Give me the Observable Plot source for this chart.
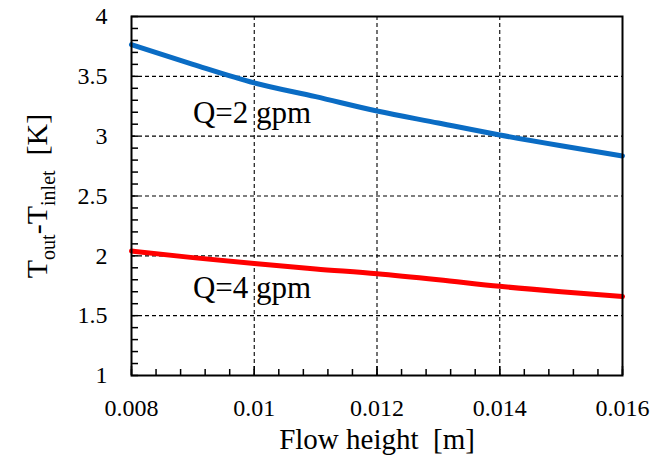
<!DOCTYPE html>
<html>
<head>
<meta charset="utf-8">
<script src="https://cdn.jsdelivr.net/npm/d3@7"></script>
<script src="https://cdn.jsdelivr.net/npm/@observablehq/plot@0.6"></script>
<style>
  body { margin: 0; background: #fff; }
  #chart svg text { white-space: pre; font-family: 'Liberation Serif', 'Times New Roman', serif !important; }
  #chart svg g, #chart svg text { font-variant: normal !important; font-variant-numeric: normal !important; }
</style>
</head>
<body>
<div id="chart"></div>
<script>
// Outlet-minus-inlet temperature rise versus flow-channel height, two flow rates
const flowHeight = [0.008, 0.009, 0.010, 0.011, 0.012, 0.013, 0.014, 0.015, 0.016];
const deltaT2gpm = [3.765, 3.60, 3.445, 3.33, 3.21, 3.11, 3.01, 2.92, 2.835];
const deltaT4gpm = [2.04, 1.985, 1.935, 1.89, 1.85, 1.80, 1.745, 1.70, 1.66];

const seriesNames = ["Q=2 gpm", "Q=4 gpm"];
const seriesColors = ["#0a6cc4", "#ff0000"];
const labelX = [0.009, 0.009];
const labelY = [3.19, 1.73];

const xTicks = [0.008, 0.010, 0.012, 0.014, 0.016];
const yTicks = [1, 1.5, 2, 2.5, 3, 3.5, 4];
const xMinor = d3.range(0, 21).map(i => 0.008 + i * 0.0004);
const yMinor = d3.range(0, 31).map(i => 1 + i / 10);

const W = 667, H = 459;
const mTop = 16, mRight = 45, mBottom = 84, mLeft = 131;
const innerW = W - mLeft - mRight;
const innerH = H - mTop - mBottom;

const rows = flowHeight.flatMap((x, i) => [
  {x, y: deltaT2gpm[i], s: seriesNames[0]},
  {x, y: deltaT4gpm[i], s: seriesNames[1]}
]);

const fmt = d3.format("~g");
const dash = {stroke: "#000", strokeOpacity: 1, strokeWidth: 1.1, strokeDasharray: "4,3"};

const chart = Plot.plot({
  width: W,
  height: H,
  marginTop: mTop,
  marginRight: mRight,
  marginBottom: mBottom,
  marginLeft: mLeft,
  style: {fontFamily: "'Liberation Serif', 'Times New Roman', serif", color: "#000", background: "#fff"},
  x: {domain: [0.008, 0.016]},
  y: {domain: [1, 4]},
  color: {domain: seriesNames, range: seriesColors},
  marks: [
    Plot.gridX(xTicks.slice(1, -1), dash),
    Plot.gridY(yTicks.slice(1, -1), dash),
    // inward minor and major tick marks
    Plot.tickX(xMinor, {x: d => d, insetTop: innerH - 6, stroke: "#000", strokeWidth: 1.5}),
    Plot.tickX(xTicks, {x: d => d, insetTop: innerH - 9, stroke: "#000", strokeWidth: 1.5}),
    Plot.tickY(yMinor, {y: d => d, insetRight: innerW - 7, stroke: "#000", strokeWidth: 1.5}),
    Plot.line(rows, {x: "x", y: "y", stroke: "s", strokeWidth: 5, curve: "monotone-x"}),
    Plot.text(seriesNames, {
      x: (d, i) => labelX[i], y: (d, i) => labelY[i], text: d => d,
      textAnchor: "start", fontSize: 31, fill: "#000"
    }),
    Plot.frame({stroke: "#000", strokeWidth: 2}),
    Plot.axisX(xTicks, {
      tickSize: 0, tickPadding: 23, fontSize: 24, tickFormat: fmt,
      label: "Flow height  [m]", labelAnchor: "center", labelOffset: 73, labelArrow: "none"
    }),
    Plot.axisY(yTicks, {
      tickSize: 0, tickPadding: 24, fontSize: 24, tickFormat: fmt,
      label: "T-T  [K]", labelAnchor: "center", labelOffset: 106, labelArrow: "none"
    })
  ]
});

document.getElementById("chart").append(chart);

const svg = d3.select(chart);
svg.selectAll("text")
  .style("font-family", "'Liberation Serif', 'Times New Roman', serif", "important")
  .style("font-variant", "normal", "important")
  .attr("font-variant", null);
svg.selectAll("g").attr("font-variant", null);

svg.select('g[aria-label="x-axis label"] text')
  .attr("font-size", 29)
  .text("Flow height  [m]");

// y-axis title with subscripts
const yl = svg.select('g[aria-label="y-axis label"] text').attr("font-size", 30).text(null);
yl.append("tspan").text("T");
yl.append("tspan").attr("dy", 8).attr("font-size", 20).text("out");
yl.append("tspan").attr("dy", -8).text("-T");
yl.append("tspan").attr("dy", 8).attr("font-size", 20).text("inlet");
yl.append("tspan").attr("dy", -8).text("  [K]");
</script>
</body>
</html>
